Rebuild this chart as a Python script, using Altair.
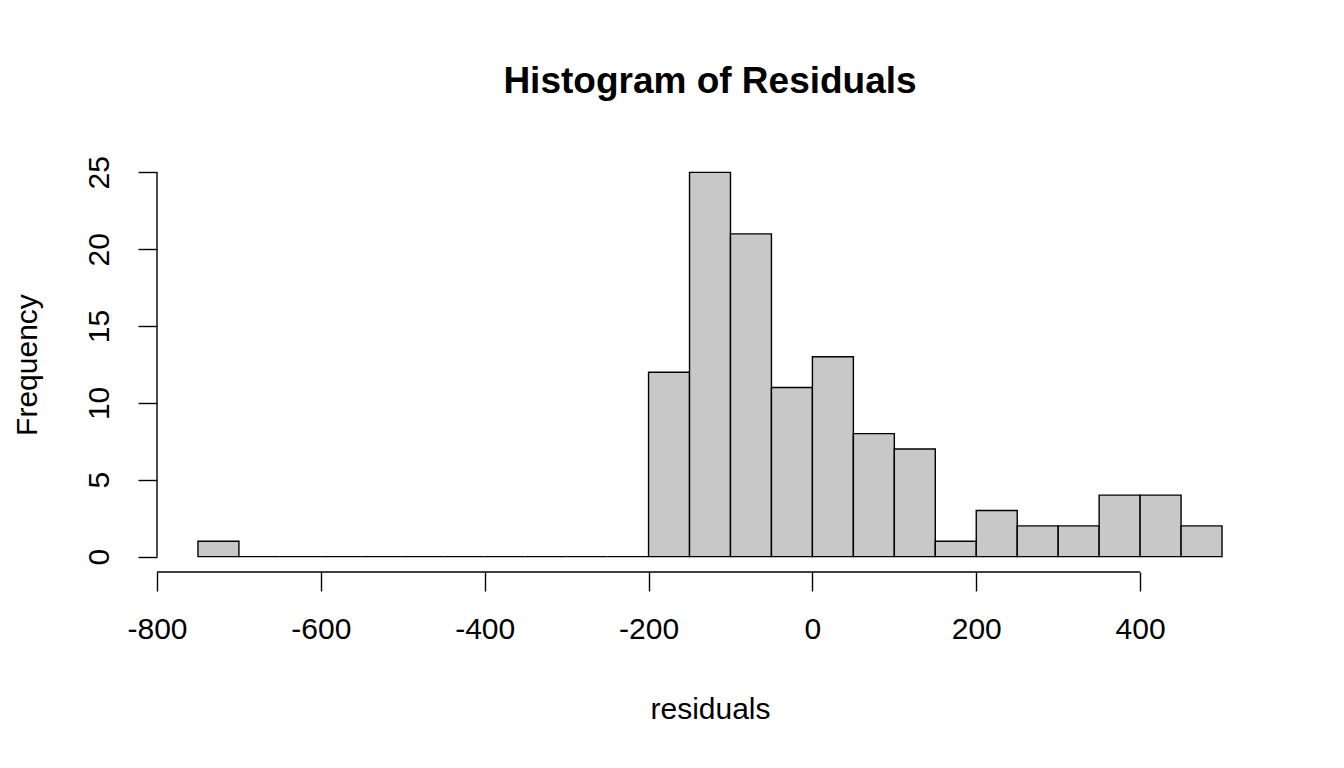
import altair as alt
import pandas as pd

# Histogram data
BREAKS = [-750, -700, -650, -600, -550, -500, -450, -400, -350, -300, -250,
          -200, -150, -100, -50, 0, 50, 100, 150, 200, 250, 300, 350, 400, 450, 500]
COUNTS = [1, 0, 0, 0, 0, 0, 0, 0, 0, 0, 0,
          12, 25, 21, 11, 13, 8, 7, 1, 3, 2, 2, 4, 4, 2]

X_TICKS = [-800, -600, -400, -200, 0, 200, 400]
Y_TICKS = [0, 5, 10, 15, 20, 25]

X_DOMAIN = [-800, 550]
Y_DOMAIN = [-1, 26]

FONT = "Liberation Sans"

bars = pd.DataFrame({"start": BREAKS[:-1], "end": BREAKS[1:], "count": COUNTS})
xline = pd.DataFrame({"x": [min(X_TICKS)], "x2": [max(X_TICKS)], "y": [Y_DOMAIN[0]]})
yline = pd.DataFrame({"x": [X_DOMAIN[0]], "y": [min(Y_TICKS)], "y2": [max(Y_TICKS)]})

xs = alt.Scale(domain=X_DOMAIN, nice=False, zero=False)
ys = alt.Scale(domain=Y_DOMAIN, nice=False, zero=False)

xaxis = alt.Axis(values=X_TICKS, domain=False, grid=False, ticks=True, tickSize=19,
                 tickColor="black", tickWidth=1.4, labelFont=FONT, labelFontSize=30,
                 labelColor="black", labelPadding=47, labelBaseline="alphabetic",
                 labelExpr="'' + datum.value",
                 labelFlush=False, labelOverlap=False,
                 title="residuals", titleFont=FONT, titleFontSize=30,
                 titleFontWeight="normal", titleColor="black",
                 titleBaseline="alphabetic", titleY=146, titleAnchor="middle")
yaxis = alt.Axis(values=Y_TICKS, domain=False, grid=False, ticks=True, tickSize=19,
                 tickColor="black", tickWidth=1.4, labelFont=FONT, labelFontSize=30,
                 labelColor="black", labelPadding=30, labelAngle=270,
                 labelAlign="center", labelBaseline="alphabetic",
                 labelExpr="'' + datum.value",
                 labelFlush=False, labelOverlap=False,
                 title="Frequency", titleFont=FONT, titleFontSize=30,
                 titleFontWeight="normal", titleColor="black", titleAngle=270,
                 titleBaseline="alphabetic", titleX=-121, titleAnchor="middle")

bar_layer = alt.Chart(bars).mark_rect(fill="#C8C8C8", stroke="black", strokeWidth=1.4).encode(
    x=alt.X("start:Q", scale=xs, axis=xaxis),
    x2="end:Q",
    y=alt.Y("count:Q", scale=ys, axis=yaxis),
    y2=alt.datum(0),
)

xrule = alt.Chart(xline).mark_rule(color="black", strokeWidth=1.4).encode(
    x=alt.X("x:Q", scale=xs, axis=xaxis),
    x2="x2:Q",
    y=alt.Y("y:Q", scale=ys, axis=yaxis),
)

yrule = alt.Chart(yline).mark_rule(color="black", strokeWidth=1.4).encode(
    x=alt.X("x:Q", scale=xs, axis=xaxis),
    y=alt.Y("y:Q", scale=ys, axis=yaxis),
    y2="y2:Q",
)

chart = alt.layer(bar_layer, xrule, yrule).properties(
    width=1106,
    height=415,
    background="white",
    title=alt.TitleParams("Histogram of Residuals", font=FONT, fontSize=37,
                          fontWeight="bold", color="black", anchor="middle",
                          frame="group", offset=26, baseline="alphabetic"),
    autosize=alt.AutoSizeParams(type="none"),
    padding={"left": 149, "top": 149, "right": 60, "bottom": 180},
).configure_view(stroke=None, strokeWidth=0)

chart.save("out.html", embed_options={"renderer": "svg", "actions": False})
